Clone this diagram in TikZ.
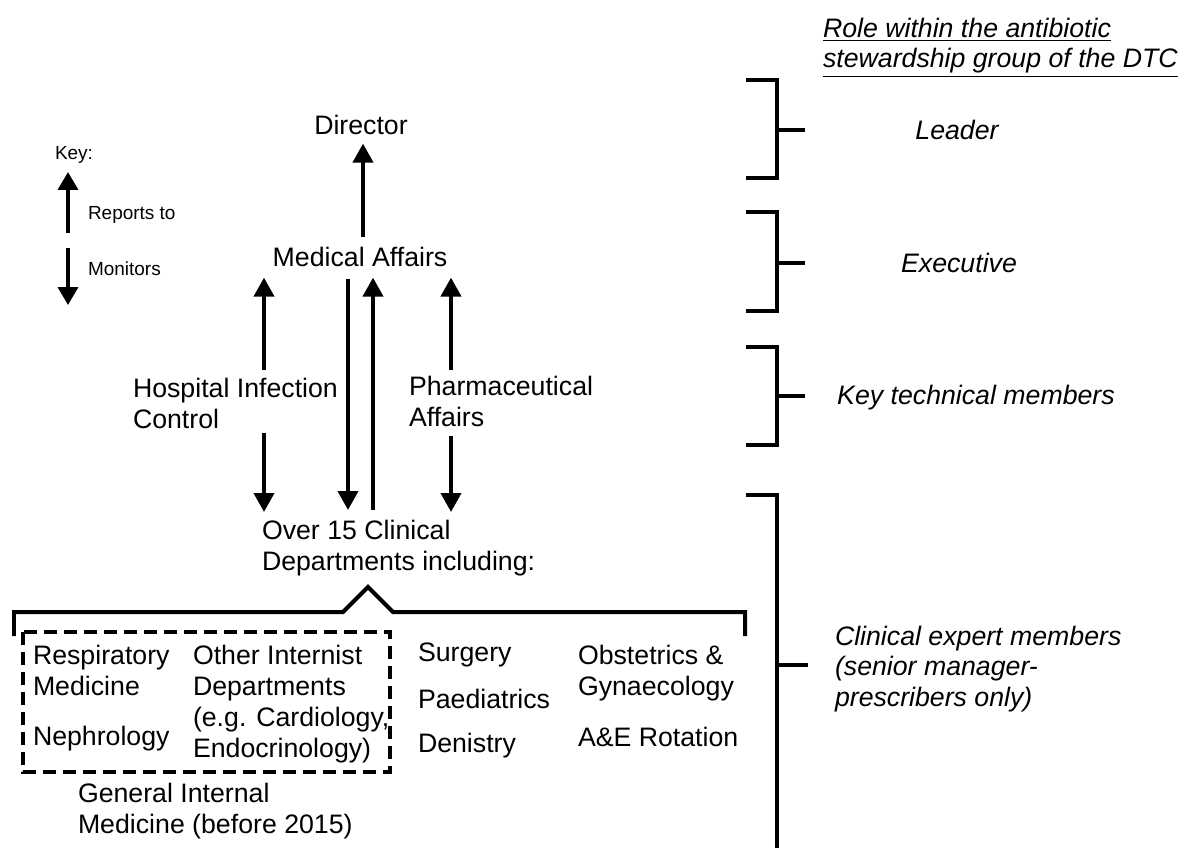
\documentclass[tikz,border=0pt]{standalone}
\usepackage{fontspec}
\setmainfont{Liberation Sans}
\usetikzlibrary{arrows.meta}
\begin{document}
\begin{tikzpicture}[x=0.02cm,y=-0.02cm,
  txt/.style={inner sep=0pt,outer sep=0pt,font=\fontsize{15.2pt}{17.6pt}\selectfont,align=left},
  ital/.style={txt,font=\fontsize{15.2pt}{17.4pt}\selectfont\itshape},
  keytxt/.style={inner sep=0pt,outer sep=0pt,font=\fontsize{10.8pt}{13pt}\selectfont},
  arr/.style={line width=0.08cm,-{Triangle[width=0.4cm,length=0.38cm]}},
  karr/.style={line width=0.07cm,-{Triangle[width=0.4cm,length=0.36cm]}},
  brk/.style={line width=0.08cm},
  dbox/.style={line width=0.08cm,dash pattern=on 0.26cm off 0.14cm}]
\useasboundingbox (0,0) rectangle (1187,848);

% Key
\node[keytxt,anchor=north west] (key) at (55,146) {Key:};
\node[keytxt,anchor=north west] (rep) at (88,206) {Reports to};
\node[keytxt,anchor=north west] (mon) at (88,262) {Monitors};
\coordinate (k1) at (68,233);
\coordinate (k2) at (68,172);
\coordinate (k3) at (68,248);
\coordinate (k4) at (68,305);
\draw[karr] (k1) -- (k2);
\draw[karr] (k3) -- (k4);

% Main nodes
\node[txt,anchor=north] (dir) at (361,115) {Director};
\node[txt,anchor=north] (ma) at (360,247) {Medical Affairs};
\node[txt,anchor=north west] (hic) at (133,378) {Hospital Infection\\Control};
\node[txt,anchor=north west] (pha) at (409,376) {Pharmaceutical\\Affairs};
\node[txt,anchor=north west] (ov) at (262,520) {Over 15 Clinical\\Departments including:};

% column coordinates
\coordinate (cD) at (363,0);
\coordinate (c1) at (264,0);
\coordinate (c2) at (348,0);
\coordinate (c3) at (373,0);
\coordinate (c4) at (451,0);

\draw[arr,shorten <=0.2cm,shorten >=0.18cm] (ma.north -| cD) -- (dir.south -| cD);
\draw[arr,shorten <=0.16cm,shorten >=0.22cm] (hic.north -| c1) -- (ma.south -| c1);
\draw[arr,shorten <=0.24cm,shorten >=0.2cm] (ma.south -| c2) -- (ov.north -| c2);
\draw[arr,shorten <=0.2cm,shorten >=0.22cm] (ov.north -| c3) -- (ma.south -| c3);
\draw[arr,shorten <=0.12cm,shorten >=0.22cm] (pha.north -| c4) -- (ma.south -| c4);
\draw[arr,shorten <=0.08cm,shorten >=0.16cm] (hic.south -| c1) -- (ov.north -| c1);
\draw[arr,shorten <=0.18cm,shorten >=0.16cm] (pha.south -| c4) -- (ov.north -| c4);

% brace
\draw[brk] (14,636) -- (14,612) -- (343,612) -- (368,587) -- (393,612) -- (745,612) -- (745,636);

% dashed group
\draw[dbox] (23,632) rectangle (390,772);
\node[txt,anchor=north west] (resp) at (33,645) {Respiratory\\Medicine};
\node[txt,anchor=north west] (neph) at (33,726) {Nephrology};
\node[txt,anchor=north west] (oth) at (193,645) {Other Internist\\Departments\\(e.g. Cardiology,\\Endocrinology)};
\node[txt,anchor=north west] (gim) at (78,783) {General Internal\\Medicine (before 2015)};

\node[txt,anchor=north west] (sur) at (418,643) {Surgery};
\node[txt,anchor=north west] (pae) at (418,689) {Paediatrics};
\node[txt,anchor=north west] (den) at (418,733) {Denistry};
\node[txt,anchor=north west] (obs) at (578,645) {Obstetrics \&\\Gynaecology};
\node[txt,anchor=north west] (ae) at (578,727) {A\&E Rotation};

% right side
\node[ital,anchor=north west] (role) at (823,18) {\underline{Role within the antibiotic}\\\underline{stewardship group of the DTC}};
\node[ital,anchor=north] (lead) at (957,120) {Leader};
\node[ital,anchor=north] (exe) at (959,253) {Executive};
\node[ital,anchor=north] (ktm) at (976,385) {Key technical members};
\node[ital,anchor=north west] (cem) at (835,626) {Clinical expert members\\(senior manager-\\prescribers only)};

\draw[brk] (746,80) -- (777,80) -- (777,178) -- (746,178);
\draw[brk] (777,130) -- (805,130);
\draw[brk] (746,212) -- (777,212) -- (777,311) -- (746,311);
\draw[brk] (777,263) -- (805,263);
\draw[brk] (746,347) -- (777,347) -- (777,445) -- (746,445);
\draw[brk] (777,396) -- (805,396);
\draw[brk] (746,495) -- (777,495) -- (777,850);
\draw[brk] (777,665) -- (808,665);
\end{tikzpicture}
\end{document}
